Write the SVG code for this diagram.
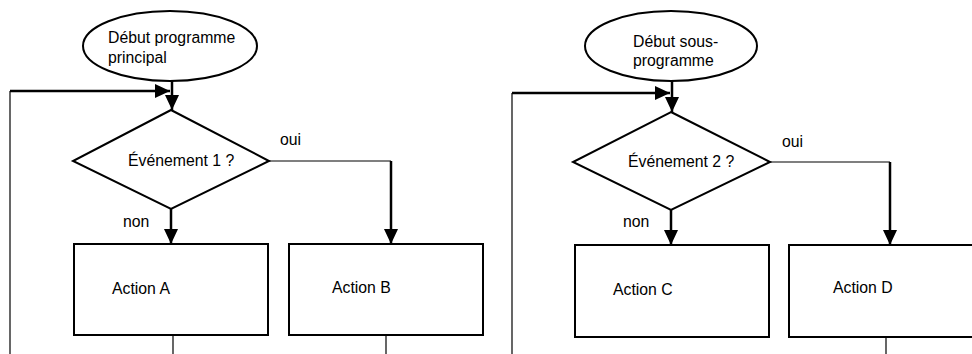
<svg xmlns="http://www.w3.org/2000/svg" width="972" height="354" viewBox="0 0 972 354">
<style>
.shape{fill:#fff;stroke:#000;stroke-width:2}
.t{font-family:"Liberation Sans",Arial,sans-serif;font-size:15.8px;fill:#000}
.thick{fill:none;stroke:#000;stroke-width:2.5}
.thin{fill:none;stroke:#000;stroke-width:1.2}
</style>
<defs>
<marker id="ah" markerWidth="15" markerHeight="14" refX="15" refY="7" orient="auto" markerUnits="userSpaceOnUse">
<path d="M0,0 L15,7 L0,14 Z" fill="#000"/>
</marker>
</defs>
<g id="connectors">
<path class="thin" d="M10,354 V91"/>
<path class="thick" d="M10,91 H170" marker-end="url(#ah)"/>
<path class="thick" d="M172,81 V110" marker-end="url(#ah)"/>
<path class="thin" d="M269,161 H391"/>
<path class="thick" d="M391,161 V244" marker-end="url(#ah)"/>
<path class="thick" d="M171,209 V244" marker-end="url(#ah)"/>
<path class="thin" d="M173,335 V354"/>
<path class="thin" d="M386,335 V354"/>
<path class="thin" d="M512,354 V93"/>
<path class="thick" d="M512,93 H670" marker-end="url(#ah)"/>
<path class="thick" d="M672,81 V112" marker-end="url(#ah)"/>
<path class="thin" d="M770,162 H890"/>
<path class="thick" d="M890,162 V245" marker-end="url(#ah)"/>
<path class="thick" d="M671,210 V245" marker-end="url(#ah)"/>
<path class="thin" d="M886,337 V354"/>
</g>
<g id="start1">
<ellipse class="shape" cx="170" cy="46" rx="87" ry="35"/>
<text class="t" x="108" y="43">Début programme</text>
<text class="t" x="108" y="63">principal</text>
</g>
<g id="decision1">
<polygon class="shape" points="171,110 269,161 171,209 73,161"/>
<text class="t" x="128" y="166">Événement 1 ?</text>
</g>
<g id="labels1">
<text class="t" x="280" y="145">oui</text>
<text class="t" x="123" y="227">non</text>
</g>
<g id="actionA">
<rect class="shape" x="74" y="244" width="194" height="91"/>
<text class="t" x="112" y="294">Action A</text>
</g>
<g id="actionB">
<rect class="shape" x="289" y="244" width="194" height="91"/>
<text class="t" x="332" y="293">Action B</text>
</g>
<g id="start2">
<ellipse class="shape" cx="671" cy="46" rx="86" ry="35"/>
<text class="t" x="633" y="47">Début sous-</text>
<text class="t" x="633" y="66">programme</text>
</g>
<g id="decision2">
<polygon class="shape" points="671,112 770,162 671,210 573,162"/>
<text class="t" x="628" y="167">Événement 2 ?</text>
</g>
<g id="labels2">
<text class="t" x="782" y="147">oui</text>
<text class="t" x="623" y="227">non</text>
</g>
<g id="actionC">
<rect class="shape" x="575" y="245" width="194" height="92"/>
<text class="t" x="613" y="295">Action C</text>
</g>
<g id="actionD">
<rect class="shape" x="789" y="245" width="200" height="92"/>
<text class="t" x="833" y="293">Action D</text>
</g>
</svg>
